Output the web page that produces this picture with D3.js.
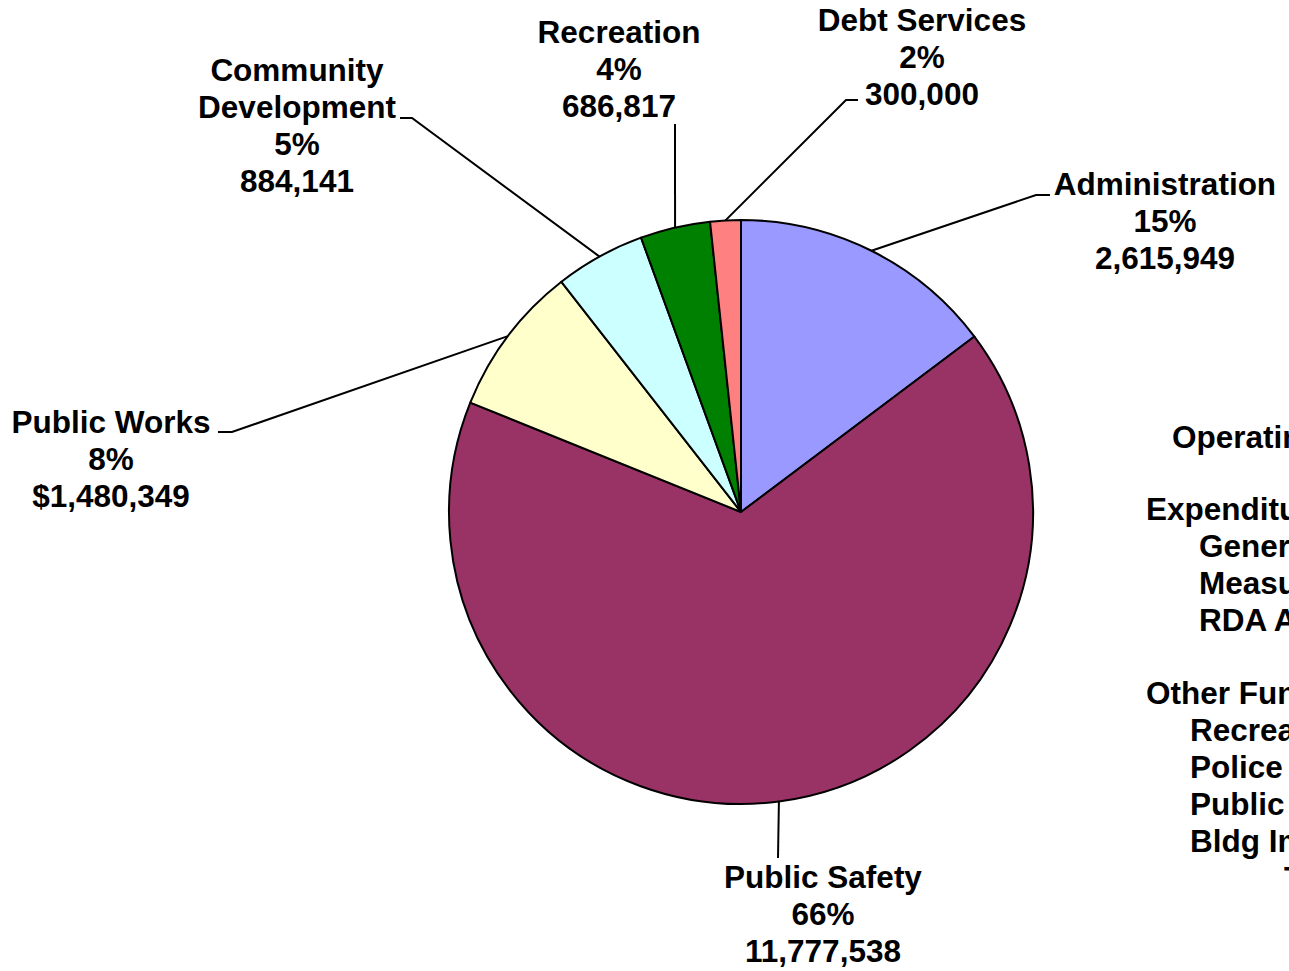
<!DOCTYPE html>
<html>
<head>
<meta charset="utf-8">
<script src="https://cdn.jsdelivr.net/npm/d3@7"></script>
<style>
  body { margin: 0; background: #fff; overflow: hidden; }
  text { font-family: "Liberation Sans", Arial, sans-serif; font-weight: bold; font-size: 31.5px; fill: #000; }
</style>
</head>
<body>
<script>
var width = 1289,
    height = 971;

// data
var names = ["Administration", "Public Safety", "Public Works", "Community Development", "Recreation", "Debt Services"];
var values = [2615949, 11777538, 1480349, 884141, 686817, 300000];
var prefixes = ["", "", "$", "", "", ""];
var colors = ["#9999FF", "#993366", "#FFFFCC", "#CCFFFF", "#008000", "#FF8080"];

// label layout: name lines, text centre x, first line centre y, leader elbow
var labelLayout = [
    {lines: ["Administration"], x: 1165, y: 184, elbow: [1036, 195], stub: [1050, 195]},
    {lines: ["Public Safety"], x: 823, y: 877, elbow: [778, 858], stub: null},
    {lines: ["Public Works"], x: 111, y: 422, elbow: [232, 432], stub: [218, 432]},
    {lines: ["Community", "Development"], x: 297, y: 70, elbow: [412, 118], stub: [400, 118]},
    {lines: ["Recreation"], x: 619, y: 32, elbow: [675, 124], stub: null},
    {lines: ["Debt Services"], x: 922, y: 20, elbow: [846, 100], stub: [858, 100]}
];

// side text block (clipped by the right edge in the original)
var sideText = [
    {t: "Operating Budget", x: 1172, y: 437},
    {t: "Expenditures:", x: 1146, y: 509},
    {t: "General Fund", x: 1199, y: 546},
    {t: "Measure A", x: 1199, y: 583},
    {t: "RDA Admin", x: 1199, y: 620},
    {t: "Other Funds:", x: 1146, y: 693},
    {t: "Recreation", x: 1190, y: 730},
    {t: "Police Grants", x: 1190, y: 767},
    {t: "Public Works", x: 1190, y: 804},
    {t: "Bldg Improvements", x: 1190, y: 841},
    {t: "Total", x: 1284, y: 878}
];

var cx = 741, cy = 512, radius = 292, lineH = 37;
var total = d3.sum(values);
var fmt = d3.format(",");

var svg = d3.select("body").append("svg")
    .attr("width", width)
    .attr("height", height);

var pie = d3.pie().sort(null).value(function (d) { return d; });
var arcs = pie(values);
var arc = d3.arc().innerRadius(0).outerRadius(radius);

var g = svg.append("g").attr("transform", "translate(" + cx + "," + cy + ")");

g.selectAll("path.slice")
    .data(arcs)
    .enter().append("path")
    .attr("class", "slice")
    .attr("d", arc)
    .attr("fill", function (d, i) { return colors[i]; })
    .attr("stroke", "#000")
    .attr("stroke-width", 2)
    .attr("stroke-linejoin", "round");

// leader lines
arcs.forEach(function (d, i) {
    var a = (d.startAngle + d.endAngle) / 2;
    var sx = cx + radius * Math.sin(a),
        sy = cy - radius * Math.cos(a);
    var L = labelLayout[i];
    var pts = [[sx, sy], L.elbow];
    if (L.stub) pts.push(L.stub);
    svg.append("path")
        .attr("d", d3.line()(pts))
        .attr("fill", "none")
        .attr("stroke", "#000")
        .attr("stroke-width", 2);
});

// labels
arcs.forEach(function (d, i) {
    var L = labelLayout[i];
    var pct = Math.round(values[i] / total * 100) + "%";
    var lines = L.lines.concat([pct, prefixes[i] + fmt(values[i])]);
    var t = svg.append("text")
        .attr("text-anchor", "middle");
    lines.forEach(function (s, k) {
        t.append("tspan")
            .attr("x", L.x)
            .attr("y", L.y + k * lineH + 11)
            .text(s);
    });
});

svg.selectAll("text.side")
    .data(sideText)
    .enter().append("text")
    .attr("class", "side")
    .attr("x", function (d) { return d.x; })
    .attr("y", function (d) { return d.y + 11; })
    .text(function (d) { return d.t; });
</script>
</body>
</html>
